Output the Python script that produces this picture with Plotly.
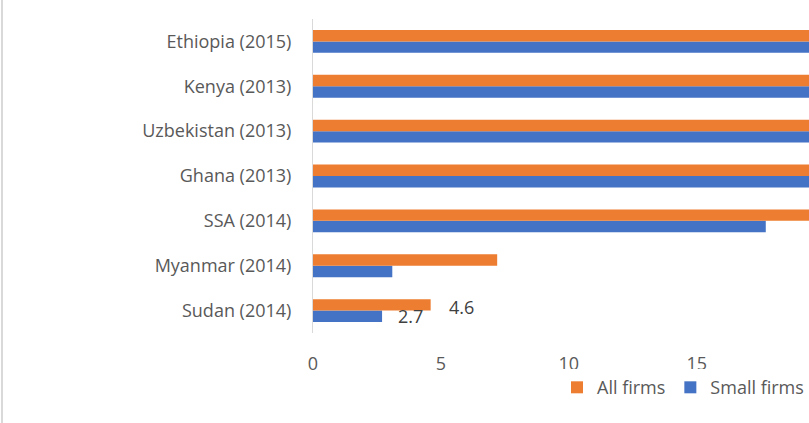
import plotly.graph_objects as go

# categories bottom -> top (plotly draws first category at the bottom)
countries = ["Sudan (2014)", "Myanmar (2014)", "SSA (2014)", "Ghana (2013)",
             "Uzbekistan (2013)", "Kenya (2013)", "Ethiopia (2015)"]
# bars for the top rows run off the right edge of the picture; values there are guesses
all_firms = [4.6, 7.2, 20.5, 22.0, 23.5, 25.0, 27.0]
small_firms = [2.7, 3.1, 17.7, 20.5, 21.5, 23.0, 25.5]
label_all = ["4.6", None, None, None, None, None, None]
label_small = ["2.7", None, None, None, None, None, None]
x_ticks = [0, 5, 10, 15, 20]

ORANGE = "#ED7D31"
BLUE = "#4472C4"
GREY = "#595959"
FONT = "Open Sans"
FS = 18

fig = go.Figure()
fig.add_trace(go.Bar(
    y=countries, x=small_firms, orientation="h", name="Small firms",
    marker=dict(color=BLUE, line=dict(width=0))
))
fig.add_trace(go.Bar(
    y=countries, x=all_firms, orientation="h", name="All firms",
    marker=dict(color=ORANGE, line=dict(width=0))
))

annotations = []
for cat, val, txt in zip(countries, all_firms, label_all):
    if txt:
        annotations.append(dict(x=val, y=cat, text=txt, showarrow=False,
                                xanchor="left", xshift=16, yshift=4,
                                font=dict(size=FS, color="#404040", family=FONT)))
for cat, val, txt in zip(countries, small_firms, label_small):
    if txt:
        annotations.append(dict(x=val, y=cat, text=txt, showarrow=False,
                                xanchor="left", xshift=14, yshift=-5,
                                font=dict(size=FS, color="#404040", family=FONT)))

fig.update_layout(
    width=809, height=423,
    margin=dict(l=313, r=0, t=19, b=90),
    paper_bgcolor="white", plot_bgcolor="white",
    barmode="group", bargap=0.49, bargroupgap=0,
    font=dict(family=FONT, size=FS, color=GREY),
    showlegend=True,
    legend=dict(orientation="h", traceorder="reversed",
                x=1.0, xanchor="right", y=-0.115, yanchor="top",
                font=dict(size=FS, color=GREY, family=FONT),
                itemwidth=30, itemsizing="constant"),
    annotations=annotations,
    shapes=[dict(type="line", xref="paper", yref="paper",
                 x0=(2 - 313) / 496, x1=(2 - 313) / 496, y0=-90 / 314, y1=1 + 19 / 314,
                 line=dict(color="#D9D9D9", width=2))],
)
fig.update_xaxes(range=[0, 19.39], tickvals=x_ticks, showgrid=False, zeroline=False,
                 showline=False, ticks="", ticklabelstandoff=18,
                 tickfont=dict(size=FS, color=GREY, family=FONT))
fig.update_yaxes(showgrid=False, zeroline=False, showline=True, linecolor="#D9D9D9",
                 linewidth=1, ticks="", ticklabelstandoff=17,
                 tickfont=dict(size=FS, color=GREY, family=FONT))

fig.write_html("out.html", config={"displayModeBar": False},
               post_script="document.body.style.margin='0';")
